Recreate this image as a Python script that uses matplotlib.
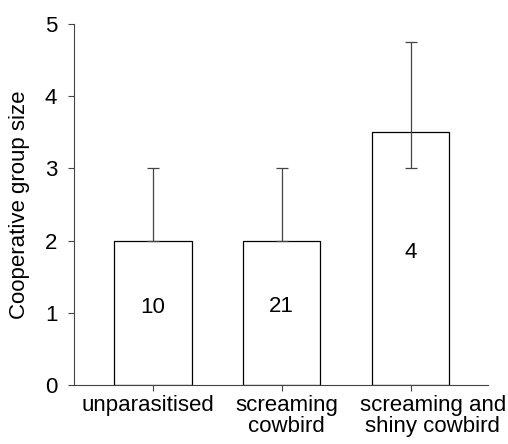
import matplotlib.pyplot as plt
from matplotlib.transforms import ScaledTranslation

# Data
groups = ["unparasitised", "screaming\ncowbird", "screaming and\nshiny cowbird"]
medians = [2, 2, 3.5]
lower_q = [2, 2, 3]
upper_q = [3, 3, 4.75]
sample_sizes = ["10", "21", "4"]
label_y = [1.07, 1.09, 1.84]

plt.rcParams["font.family"] = ["Liberation Sans", "DejaVu Sans"]

fig = plt.figure(figsize=(5.08, 4.44), dpi=100)
ax = fig.add_axes([74 / 508, 1 - 385 / 444, 414 / 508, 361 / 444])

x = range(len(groups))
err_low = [m - lo for m, lo in zip(medians, lower_q)]
err_high = [hi - m for m, hi in zip(medians, upper_q)]

ax.bar(x, medians, width=0.6, color="white", edgecolor="black", linewidth=0.9, zorder=2)
ax.errorbar(x, medians, yerr=[err_low, err_high], fmt="none", ecolor="#444444",
            elinewidth=0.9, capsize=4, capthick=0.9, zorder=3)

for xi, n, yi in zip(x, sample_sizes, label_y):
    ax.text(xi, yi, n, ha="center", va="center", fontsize=16, zorder=4)

ax.set_xlim(-0.612, 2.6)
ax.set_ylim(0, 5)
ax.set_xticks(list(x))
ax.set_xticklabels(groups, fontsize=16, linespacing=1.0)
ax.set_yticks([0, 1, 2, 3, 4, 5])
ax.tick_params(axis="y", labelsize=16, length=4, width=0.8, color="#444444", pad=8)
ax.tick_params(axis="x", length=4, width=0.8, color="#444444", pad=3)
ax.set_ylabel("Cooperative group size", fontsize=16, labelpad=11)

# the category labels sit slightly off their ticks in the original
for lab, dx in zip(ax.get_xticklabels(), [-5, 5, 22]):
    lab.set_transform(lab.get_transform() + ScaledTranslation(dx / 100, 0, fig.dpi_scale_trans))

for side in ["top", "right"]:
    ax.spines[side].set_visible(False)
for side in ["left", "bottom"]:
    ax.spines[side].set_color("#444444")
    ax.spines[side].set_linewidth(0.8)

plt.savefig("out.png", dpi=100)
